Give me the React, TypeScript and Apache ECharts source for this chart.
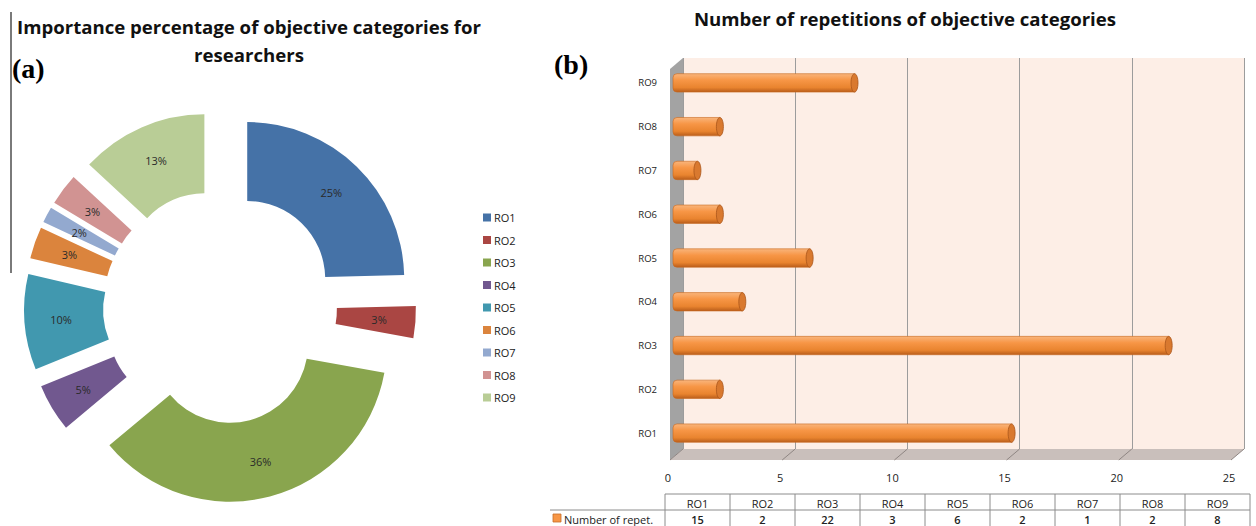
import React, { useEffect, useRef } from "react";
import * as echarts from "echarts";

// Objective categories and how often each one was repeated
const categories = ["RO1", "RO2", "RO3", "RO4", "RO5", "RO6", "RO7", "RO8", "RO9"];
const repetitions = [15, 2, 22, 3, 6, 2, 1, 2, 8];
const pieColors = ["#4572A7", "#AA4643", "#89A54E", "#71588F", "#4198AF", "#DB843D", "#93A9CF", "#D19392", "#B9CD96"];
const xTicks = [0, 5, 10, 15, 20, 25];

const pieTitle = "Importance percentage of objective categories for\nresearchers";
const barTitle = "Number of repetitions of objective categories";
const tableRowLabel = "Number of repet.";

// layout of the 3D-look bar panel
const BACK = { left: 683, top: 58, right: 1244, bottom: 449 };
const DEPTH = { dx: -13, dy: 11 };
const FRONT = { left: 675, top: 61, right: 1236, bottom: 455 };
const TABLE = { x: 665, labelX: 550, top: 494, rowH: 16, colW: 65 };

const FONT = "'Open Sans', 'Noto Sans', sans-serif";

export default function App() {
  const ref = useRef<HTMLDivElement>(null);

  useEffect(() => {
    if (!ref.current) return;
    const chart = echarts.init(ref.current, undefined, { renderer: "svg" });

    const barGradient = new echarts.graphic.LinearGradient(0, 0, 0, 1, [
      { offset: 0, color: "#f9b57c" },
      { offset: 0.35, color: "#f79646" },
      { offset: 0.75, color: "#e9842f" },
      { offset: 1, color: "#b95d1b" },
    ]);

    // data table under the bar panel
    const tableEls: any[] = [];
    const lineStyle = { stroke: "#8c8c8c", lineWidth: 1 };
    const tRight = TABLE.x + TABLE.colW * categories.length;
    const y0 = TABLE.top, y1 = TABLE.top + TABLE.rowH, y2 = TABLE.top + 2 * TABLE.rowH + 2;
    tableEls.push({ type: "line", shape: { x1: TABLE.x, y1: y0, x2: tRight, y2: y0 }, style: lineStyle });
    tableEls.push({ type: "line", shape: { x1: TABLE.labelX, y1: y1, x2: tRight, y2: y1 }, style: lineStyle });
    for (let i = 0; i <= categories.length; i++) {
      const x = TABLE.x + i * TABLE.colW;
      tableEls.push({ type: "line", shape: { x1: x, y1: y0, x2: x, y2: y2 }, style: lineStyle });
    }
    categories.forEach((c, i) => {
      const cx = TABLE.x + i * TABLE.colW + TABLE.colW / 2;
      tableEls.push({
        type: "text", x: cx, y: y0 + TABLE.rowH / 2 + 1,
        style: { text: c, font: `11px ${FONT}`, fill: "#222", align: "center", verticalAlign: "middle" },
      });
      tableEls.push({
        type: "text", x: cx, y: y1 + TABLE.rowH / 2 + 1,
        style: { text: String(repetitions[i]), font: `600 11px ${FONT}`, fill: "#222", align: "center", verticalAlign: "middle" },
      });
    });
    tableEls.push({
      type: "rect", shape: { x: TABLE.labelX + 3, y: y1 + 4, width: 8, height: 8 },
      style: { fill: "#f79646", stroke: "#c66d26", lineWidth: 0.8 },
    });
    tableEls.push({
      type: "text", x: TABLE.labelX + 14, y: y1 + TABLE.rowH / 2 + 1,
      style: { text: tableRowLabel, font: `11px ${FONT}`, fill: "#222", align: "left", verticalAlign: "middle" },
    });

    const baseGraphic: any[] = [
      { type: "line", shape: { x1: 11, y1: 12, x2: 11, y2: 273 }, style: { stroke: "#7a7a7a", lineWidth: 2 } },
      {
        type: "text", x: 249, y: 12,
        style: { text: pieTitle, font: `bold 18.6px ${FONT}`, fill: "#111", align: "center", lineHeight: 28 },
      },
      {
        type: "text", x: 905, y: 9,
        style: { text: barTitle, font: `bold 18.6px ${FONT}`, fill: "#111", align: "center" },
      },
      {
        type: "text", x: 12, y: 54,
        style: { text: "(a)", font: "bold 28px 'Liberation Serif', 'DejaVu Serif', serif", fill: "#000" },
      },
      {
        type: "text", x: 554, y: 50,
        style: { text: "(b)", font: "bold 28px 'Liberation Serif', 'DejaVu Serif', serif", fill: "#000" },
      },
      // left wall of the bar panel
      {
        type: "polygon", z: 1,
        shape: {
          points: [
            [BACK.left, BACK.top], [BACK.left, BACK.bottom],
            [BACK.left + DEPTH.dx, BACK.bottom + DEPTH.dy], [BACK.left + DEPTH.dx, BACK.top + DEPTH.dy],
          ],
        },
        style: { fill: "#a3a3a3" },
      },
      // floor of the bar panel
      {
        type: "polygon", z: 1,
        shape: {
          points: [
            [BACK.left, BACK.bottom], [BACK.right, BACK.bottom],
            [BACK.right + DEPTH.dx, BACK.bottom + DEPTH.dy], [BACK.left + DEPTH.dx, BACK.bottom + DEPTH.dy],
          ],
        },
        style: { fill: "#c9bfbb" },
      },
      ...tableEls,
    ];

    const option: any = {
      animation: false,
      backgroundColor: "#ffffff",
      textStyle: { fontFamily: FONT },
      legend: {
        orient: "vertical",
        left: 478,
        top: 207,
        itemWidth: 8,
        itemHeight: 8,
        itemGap: 11.5,
        icon: "rect",
        selectedMode: false,
        data: categories,
        textStyle: { fontSize: 11, color: "#222", padding: [0, 0, 0, -2] },
      },
      grid: [
        {
          left: BACK.left, top: BACK.top, width: BACK.right - BACK.left, height: BACK.bottom - BACK.top,
          show: true, backgroundColor: "#fdeee6", borderWidth: 0,
        },
        {
          left: FRONT.left, top: FRONT.top, width: FRONT.right - FRONT.left, height: FRONT.bottom - FRONT.top,
        },
      ],
      xAxis: [
        {
          gridIndex: 0, type: "value", min: 0, max: 25, interval: 5,
          axisLabel: { show: false }, axisLine: { show: false }, axisTick: { show: false },
          splitLine: { show: true, lineStyle: { color: "#9c9c9c", width: 1 } },
        },
        {
          gridIndex: 1, type: "value", min: 0, max: 25, interval: 5,
          axisLine: { show: false }, axisTick: { show: false }, splitLine: { show: false },
          axisLabel: { margin: 17, fontSize: 11, color: "#222", padding: [0, 14, 0, 0] },
        },
      ],
      yAxis: [
        { gridIndex: 0, type: "value", show: false },
        {
          gridIndex: 1, type: "category", data: categories,
          axisLine: { show: false }, axisTick: { show: false },
          axisLabel: { margin: 18, fontSize: 9.5, color: "#222" },
        },
      ],
      series: [
        {
          type: "pie",
          center: [220, 307],
          radius: [78, 157],
          startAngle: 90,
          clockwise: true,
          selectedMode: "multiple",
          selectedOffset: 39,
          emphasis: { disabled: true },
          label: {
            position: "inside",
            fontSize: 11,
            color: "#2a2a2a",
            formatter: (p: any) => Math.round(p.percent) + "%",
          },
          labelLine: { show: false },
          data: categories.map((name, i) => ({
            name,
            value: repetitions[i],
            selected: true,
            itemStyle: { color: pieColors[i] },
          })),
        },
        {
          type: "custom",
          name: tableRowLabel,
          xAxisIndex: 1,
          yAxisIndex: 1,
          z: 3,
          encode: { x: 0, y: 1 },
          data: repetitions.map((v, i) => [v, i]),
          renderItem: (params: any, api: any) => {
            const start = api.coord([0, api.value(1)]);
            const end = api.coord([api.value(0), api.value(1)]);
            const h = api.size([0, 1])[1] * 0.42;
            const rx = 3.5;
            return {
              type: "group",
              children: [
                {
                  type: "rect",
                  shape: { x: start[0] - 2, y: start[1] - h / 2, width: end[0] - start[0] + 2, height: h, r: [4, 0, 0, 4] },
                  style: { fill: barGradient, stroke: "#c8681f", lineWidth: 0.6 },
                },
                {
                  type: "ellipse",
                  shape: { cx: end[0], cy: end[1], rx, ry: h / 2 },
                  style: { fill: "#d9792f", stroke: "#a9561a", lineWidth: 0.8 },
                },
              ],
            };
          },
        },
      ],
      graphic: baseGraphic,
    };

    chart.setOption(option);

    // floor seams under every grid line, placed with the back axis scale
    const seams = xTicks.map((t) => {
      const x = chart.convertToPixel({ xAxisIndex: 0 }, t) as number;
      return {
        type: "line", z: 1,
        shape: { x1: x, y1: BACK.bottom, x2: x + DEPTH.dx, y2: BACK.bottom + DEPTH.dy },
        style: { stroke: "#8f8683", lineWidth: 1 },
      };
    });
    chart.setOption({ graphic: [...baseGraphic, ...seams] }, { replaceMerge: ["graphic"] });

    return () => chart.dispose();
  }, []);

  return (
    <div
      ref={ref}
      style={{ position: "fixed", left: 0, top: 0, width: 1256, height: 526 }}
    />
  );
}
